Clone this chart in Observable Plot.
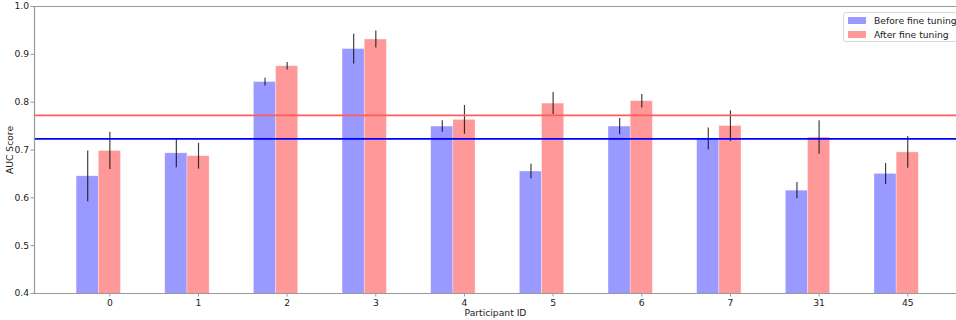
<!DOCTYPE html>
<html>
<head>
<meta charset="utf-8">
<script src="https://cdn.jsdelivr.net/npm/d3@7"></script>
<script src="https://cdn.jsdelivr.net/npm/@observablehq/plot@0.6"></script>
<style>
  html, body { margin: 0; padding: 0; background: #fff; }
  #wrap { position: relative; width: 956px; height: 320px; overflow: hidden; font-family: "DejaVu Sans", sans-serif; }
  #legend { position: absolute; left: 843px; top: 12px; width: 130px; height: 28px; border: 1px solid #d9d9d9; border-radius: 3px; background: rgba(255,255,255,0.8); font-size: 9.2px; color: #222; }
  .item { position: absolute; left: 4px; display: flex; align-items: center; white-space: nowrap; }
  .sw { width: 18px; height: 7px; margin-right: 8px; }
</style>
</head>
<body>
<div id="wrap"><div id="legend"></div></div>
<script>
const ids = ["0", "1", "2", "3", "4", "5", "6", "7", "31", "45"];
const before = [0.645, 0.693, 0.842, 0.911, 0.749, 0.655, 0.749, 0.723, 0.615, 0.650];
const beforeErr = [0.053, 0.030, 0.008, 0.031, 0.012, 0.015, 0.017, 0.023, 0.017, 0.022];
const after = [0.698, 0.687, 0.875, 0.931, 0.763, 0.797, 0.802, 0.750, 0.726, 0.695];
const afterErr = [0.039, 0.027, 0.008, 0.018, 0.030, 0.023, 0.014, 0.032, 0.035, 0.033];
const seriesNames = ["Before fine tuning", "After fine tuning"];
const barFill = ["#9999ff", "#ff9999"];
const lineColor = ["#0000ff", "#ff5c5c"];
const yTicks = [0.4, 0.5, 0.6, 0.7, 0.8, 0.9, 1.0];

const bw = 0.25;
const rows = [];
ids.forEach((id, i) => {
  rows.push({s: 0, c: i - bw, v: before[i], e: beforeErr[i]});
  rows.push({s: 1, c: i, v: after[i], e: afterErr[i]});
});
const means = [d3.mean(before), d3.mean(after)];
const xDom = [-0.85, 9.55];

const chart = Plot.plot({
  width: 956, height: 320,
  marginLeft: 34, marginRight: 0, marginTop: 6, marginBottom: 27,
  style: {fontFamily: "DejaVu Sans, sans-serif", fontSize: "9.2px", color: "#222"},
  x: {type: "linear", domain: xDom},
  y: {domain: [0.4, 1.0]},
  marks: [
    Plot.rectY(rows, {x1: d => d.c - bw / 2, x2: d => d.c + bw / 2, y1: 0, y2: "v", fill: d => barFill[d.s], stroke: "#fff", strokeOpacity: 0.5, strokeWidth: 0.6, clip: true}),
    Plot.ruleX(rows, {x: "c", y1: d => d.v - d.e, y2: d => d.v + d.e, stroke: "#000", strokeOpacity: 0.75, strokeWidth: 1.2, clip: true}),
    Plot.ruleY(means, {y: d => d, stroke: (d, i) => lineColor[i], strokeWidth: 1.6}),
    Plot.ruleX([xDom[0]], {stroke: "#999", strokeWidth: 1.2}),
    Plot.ruleY([0.4, 1.0], {stroke: "#999", strokeWidth: 1.2}),
    Plot.axisY({ticks: yTicks, tickFormat: d3.format(".1f"), tickSize: 3.5, tickPadding: 2, stroke: "#999", label: "AUC Score", labelAnchor: "center", labelArrow: "none", labelOffset: 28}),
    Plot.axisX({ticks: d3.range(ids.length), tickFormat: i => ids[i], tickSize: 3.5, tickPadding: 2, stroke: "#999", label: "Participant ID", labelAnchor: "center", labelArrow: "none", labelOffset: 22})
  ]
});
document.getElementById("wrap").prepend(chart);
chart.style.position = "absolute";
chart.style.left = "0px";
chart.style.top = "0px";

const legend = document.getElementById("legend");
seriesNames.forEach((name, i) => {
  const it = document.createElement("div");
  it.className = "item";
  it.style.top = (i === 0 ? 2 : 16) + "px";
  const sw = document.createElement("span");
  sw.className = "sw";
  sw.style.background = barFill[i];
  const t = document.createElement("span");
  t.textContent = name;
  it.append(sw, t);
  legend.append(it);
});
</script>
</body>
</html>
